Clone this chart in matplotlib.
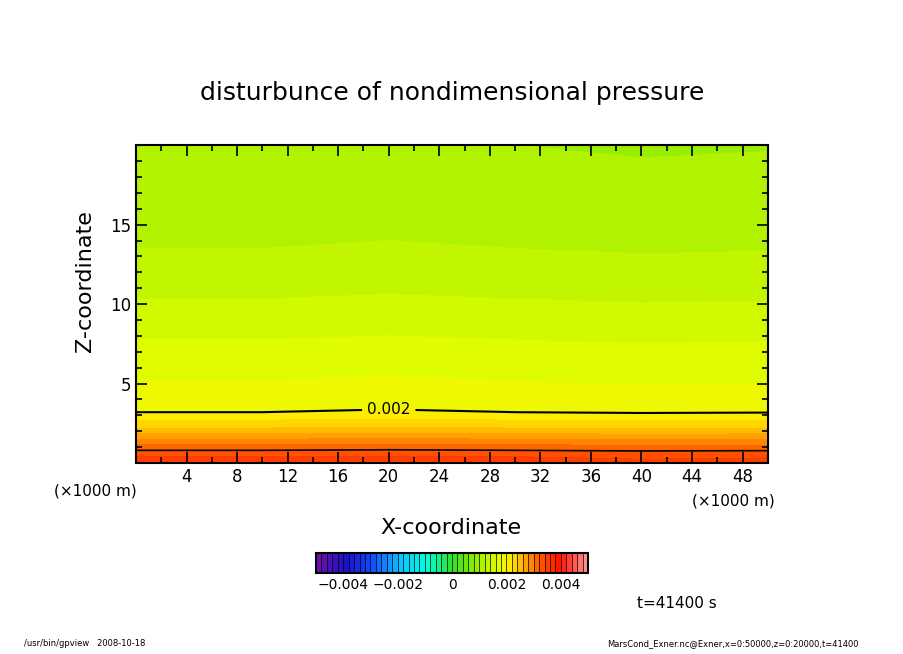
import numpy as np
import matplotlib
matplotlib.use("Agg")
import matplotlib.pyplot as plt
from matplotlib.colors import LinearSegmentedColormap, BoundaryNorm
from matplotlib.ticker import MultipleLocator

# data: pressure disturbance profile vs height (km), nearly uniform in x
z_km = [0.0, 0.4, 0.8, 1.5, 2.2, 3.2, 4.5, 6.5, 9.0, 11.0, 13.5, 16.0, 20.0]
p_val = [0.00345, 0.0034, 0.0032, 0.0028, 0.0024, 0.0020, 0.00185, 0.0017, 0.0015, 0.00135, 0.0012, 0.0011, 0.0010]
x_km = [0, 10, 20, 30, 40, 50]
x_perturb = [0.0, 0.0, 0.00002, 0.0, -0.00002, -0.00001]
levels = np.arange(-0.005, 0.00501, 0.0002)
cbar_ticks = [-0.004, -0.002, 0, 0.002, 0.004]

xg = np.linspace(0, 50, 201)
zg = np.linspace(0, 20, 201)
P = np.interp(zg, z_km, p_val)[:, None] + np.interp(xg, x_km, x_perturb)[None, :]

cmap = LinearSegmentedColormap.from_list("gp", [
    (0.0, "#6a10a8"), (0.1, "#1a10c8"), (0.2, "#1050ff"), (0.3, "#10c0ff"),
    (0.4, "#00ffe0"), (0.5, "#30e020"), (0.6, "#a8f000"), (0.68, "#e8ff00"),
    (0.72, "#ffe800"), (0.82, "#ff6000"), (0.9, "#ff1000"), (1.0, "#ff9090")])
norm = BoundaryNorm(levels, cmap.N)

fig = plt.figure(figsize=(9.04, 6.54), dpi=100)
ax = fig.add_axes([0.1504, 0.292, 0.699, 0.486])
cf = ax.contourf(xg, zg, P, levels=levels, cmap=cmap, norm=norm)
cs = ax.contour(xg, zg, P, levels=[0.002], colors="black", linewidths=1.5)
ax.clabel(cs, fmt="%.3f", fontsize=11, manual=[(20, 3.2)])
ax.contour(xg, zg, P, levels=[0.0032], colors="black", linewidths=1.2)
ax.set_xlim(0, 50)
ax.set_ylim(0, 20)
ax.set_xticks(np.arange(4, 50, 4))
ax.xaxis.set_minor_locator(MultipleLocator(2))
ax.set_yticks([5, 10, 15])
ax.yaxis.set_minor_locator(MultipleLocator(1))
ax.tick_params(which="both", direction="in", top=True, right=True, labelsize=12, width=1.2)
ax.tick_params(which="major", length=8)
ax.tick_params(which="minor", length=4)
for s in ax.spines.values():
    s.set_linewidth(1.5)

fig.text(0.5, 0.858, "disturbunce of nondimensional pressure", ha="center", va="center", fontsize=18)
fig.text(0.094, 0.57, "Z-coordinate", rotation=90, ha="center", va="center", fontsize=16)
fig.text(0.499, 0.192, "X-coordinate", ha="center", va="center", fontsize=16)
fig.text(0.105, 0.249, "(×1000 m)", ha="center", va="center", fontsize=11)
fig.text(0.811, 0.234, "(×1000 m)", ha="center", va="center", fontsize=11)
fig.text(0.749, 0.077, "t=41400 s", ha="center", va="center", fontsize=11)
fig.text(0.027, 0.009, "/usr/bin/gpview   2008-10-18", ha="left", va="bottom", fontsize=6)
fig.text(0.95, 0.009, "MarsCond_Exner.nc@Exner,x=0:50000,z=0:20000,t=41400", ha="right", va="bottom", fontsize=6)

cax = fig.add_axes([0.3496, 0.124, 0.3009, 0.031])
sm = matplotlib.cm.ScalarMappable(norm=norm, cmap=cmap)
cb = fig.colorbar(sm, cax=cax, orientation="horizontal", ticks=cbar_ticks, drawedges=True)
cb.dividers.set_linewidth(0.5)
cb.outline.set_linewidth(1.5)
cb.ax.minorticks_off()
cb.ax.set_xticklabels(["−0.004", "−0.002", "0", "0.002", "0.004"])
cb.ax.tick_params(length=0, labelsize=10)

fig.savefig("out.png", dpi=100)
